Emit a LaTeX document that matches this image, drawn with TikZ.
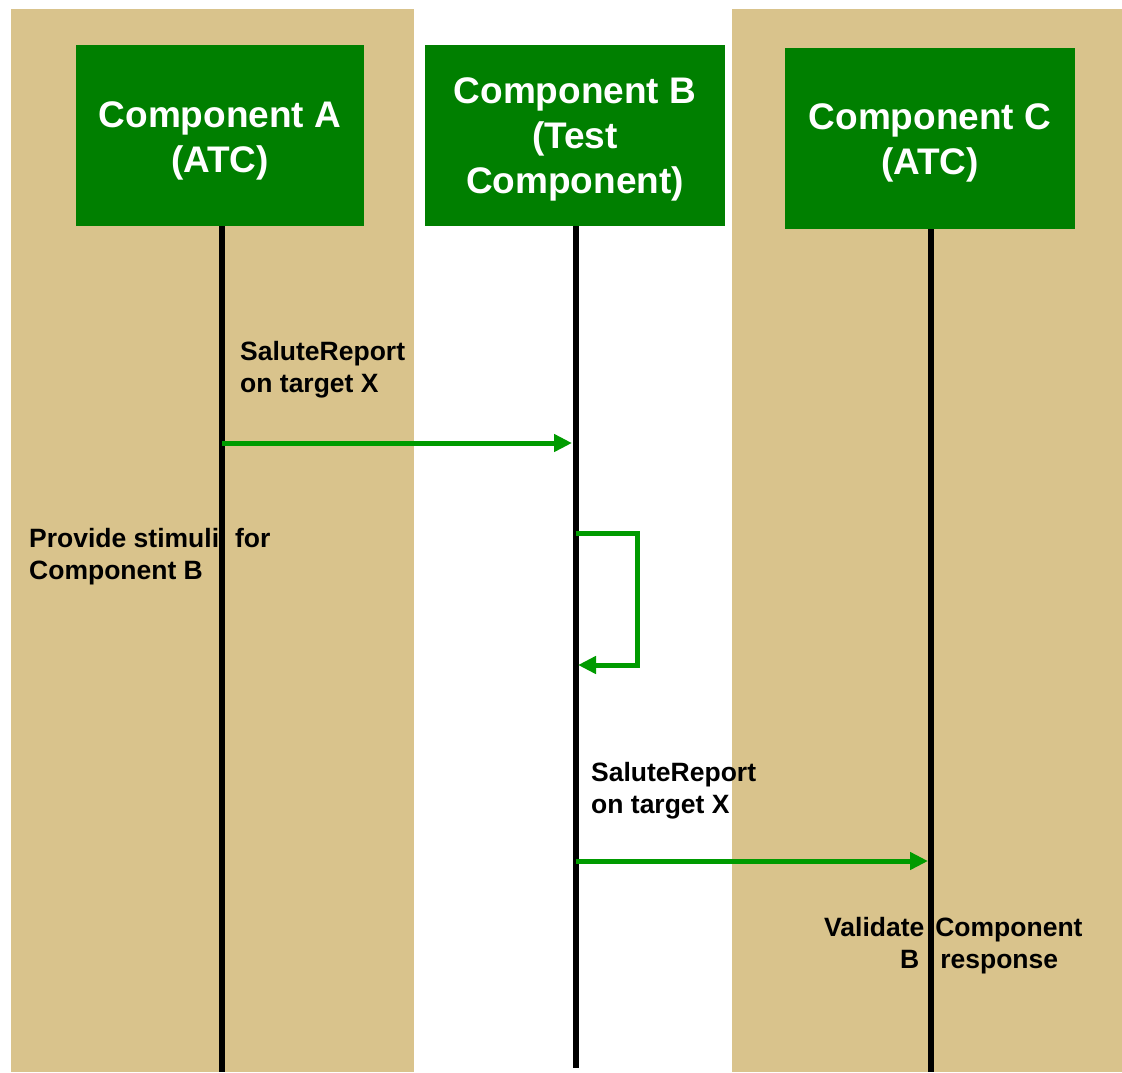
\documentclass[tikz,border=0pt]{standalone}
\usepackage{fontspec}
\setmainfont{Liberation Sans}
\usetikzlibrary{arrows.meta, positioning}

\definecolor{lanetan}{RGB}{217,195,140}
\definecolor{compgreen}{RGB}{0,127,0}
\definecolor{msggreen}{RGB}{0,155,0}

% pousse le texte des composants vers le bas
\newcommand{\toplift}[1]{\rule{0pt}{#1}}

\begin{document}
\begin{tikzpicture}[x=1pt, y=-1pt, >={Triangle[length=18pt,width=17pt]},
    comp/.style={fill=compgreen, text=white, align=center, inner sep=0pt,
                 font=\bfseries\fontsize{37}{45}\selectfont},
    lifeline/.style={line width=6pt},
    msg/.style={->, draw=msggreen, line width=5pt},
    note/.style={align=left, anchor=base west, inner sep=0pt,
                 font=\bfseries\fontsize{26.5}{31.5}\selectfont}]
    \useasboundingbox (0,0) rectangle (1122,1072);

    % Couloirs
    \fill[lanetan] (11,9) rectangle (414,1072);
    \fill[lanetan] (732,9) rectangle (1122,1072);

    % Composants
    \node[comp, minimum width=288pt, minimum height=181pt] (A) at (220,135.5) {\toplift{37pt}Component A\\(ATC)};
    \node[comp, minimum width=300pt, minimum height=181pt] (B) at (575,135.5) {\toplift{33pt}Component B\\(Test\\Component)};
    \node[comp, minimum width=290pt, minimum height=181pt] (C) at (930,138.5) {\toplift{34pt}Component C\\(ATC)};

    % Fins des lignes de vie
    \coordinate (Aend) at (222,1072);
    \coordinate (Bend) at (576,1068);
    \coordinate (Cend) at (931,1072);

    % Lignes de vie
    \draw[lifeline] (A.south -| Aend) -- (Aend);
    \draw[lifeline] (B.south -| Bend) -- (Bend);
    \draw[lifeline] (C.south -| Cend) -- (Cend);

    % Points des messages
    \coordinate (m1a) at (222,443);
    \coordinate (m1b) at (572,443);
    \coordinate (s1a) at (576,533);
    \coordinate (s1b) at (637,533);
    \coordinate (s1c) at (637,665);
    \coordinate (s1d) at (578,665);
    \coordinate (m2a) at (576,861);
    \coordinate (m2b) at (928,861);

    % Messages
    \draw[msg] (m1a) -- (m1b);
    \draw[msg] (s1a) -- (s1b) -- (s1c) -- (s1d);
    \draw[msg] (m2a) -- (m2b);

    % Textes
    \node[note] (t1) at (240,392) {SaluteReport\\on target X};
    \node[note] (t2) at (29,579) {Provide stimuli\hspace{16pt}for\\Component B};
    \node[note] (t3) at (591,813) {SaluteReport\\on target X};
    \node[note] (t4) at (824,968) {Validate\hspace{11pt}Component\\\hspace*{76pt}B\hspace{21pt}response};

\end{tikzpicture}
\end{document}
